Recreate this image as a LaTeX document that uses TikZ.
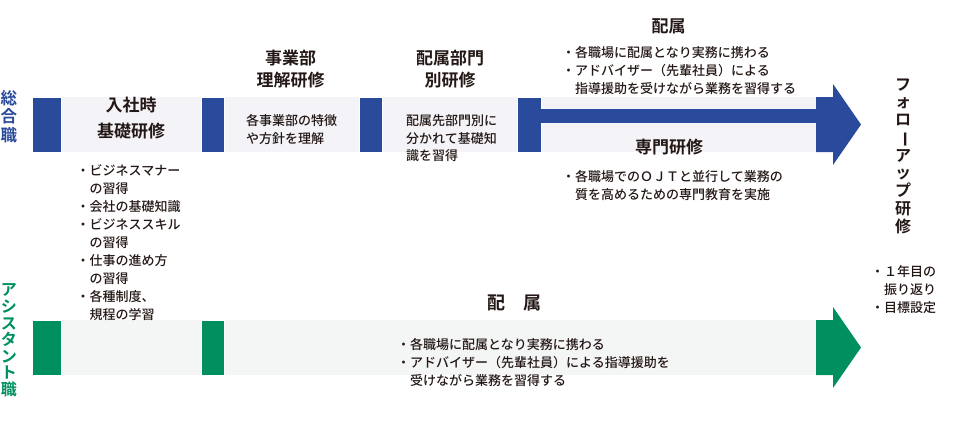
\documentclass[tikz,border=0pt]{standalone}
\usepackage{fontspec}
\setmainfont{Noto Sans CJK JP Medium}[BoldFont={Noto Sans CJK JP Bold}]
\usepackage{graphicx}
\usetikzlibrary{positioning}

\definecolor{sogoblue}{HTML}{2A4A9C}
\definecolor{asgreen}{HTML}{00905F}
\definecolor{bandblue}{HTML}{F3F3F8}
\definecolor{bandgreen}{HTML}{F4F6F6}
\definecolor{inkblack}{HTML}{231815}

\newcommand{\vbar}{\smash{\rotatebox[origin=c]{-90}{ー}}}

\begin{document}
\begin{tikzpicture}[
    x=1pt, y=-1pt,
    band/.style      = {draw=none},
    block/.style     = {draw=white, line width=0.8pt},
    stagetitle/.style = {font=\fontsize{17}{22.5}\selectfont\bfseries,
                         align=center, text=inkblack, inner sep=0pt},
    stagetext/.style  = {font=\fontsize{13}{18}\selectfont, align=left,
                         anchor=west, text=inkblack, inner sep=0pt},
    vlabel/.style     = {align=center, inner sep=0pt}
]
\useasboundingbox (0,0) rectangle (960,431);

% ========= 総合職 row =========
\fill[band, bandblue] (61,97) rectangle (816,152);
\foreach \xa/\xb in {32/61, 201/224, 359/382, 517/541}
  \filldraw[block, fill=sogoblue] (\xa,97) rectangle (\xb,152);
\fill[sogoblue] (541,109) rectangle (816,123);
\fill[sogoblue] (816,97) -- (833,97) -- (833,84) -- (861,124.5)
  -- (833,165) -- (833,152) -- (816,152) -- cycle;

% ========= アシスタント職 row =========
\fill[band, bandgreen] (61,320) rectangle (816,375);
\foreach \xa/\xb in {32/61, 201/224}
  \filldraw[block, fill=asgreen] (\xa,320) rectangle (\xb,375);
\fill[asgreen] (816,320) -- (833,320) -- (833,307) -- (861,347.5)
  -- (833,388) -- (833,375) -- (816,375) -- cycle;

% ========= row labels =========
\node[vlabel, text=sogoblue, font=\fontsize{16.5}{18.5}\selectfont\bfseries]
  (sogo) at (9,116.5) {総\\合\\職};
\node[vlabel, text=asgreen, font=\fontsize{16}{16.6}\selectfont\bfseries]
  (asst) at (9,340.5) {ア\\シ\\ス\\タ\\ン\\ト\\職};

% ========= stage titles =========
\node[stagetitle, font=\fontsize{17}{26.5}\selectfont\bfseries]
  (nyusha) at (131,118) {入社時\\基礎研修};
\node[stagetitle] (jigyo)     at (290.5,69) {事業部\\理解研修};
\node[stagetitle] (haizokubu) at (450,69)   {配属部門\\別研修};
\node[stagetitle] (haizoku)   at (668.5,26) {配属};
\node[stagetitle] (senmon)    at (669,147.5) {専門研修};
\node[stagetitle, font=\fontsize{18}{22}\selectfont\bfseries]
  (haizokuAs) at (514,302.5) {配　属};
\node[vlabel, text=inkblack, font=\fontsize{16}{17.75}\selectfont\bfseries]
  (follow) at (903,156) {フ\\ォ\\ロ\\\vbar\\ア\\ッ\\プ\\研\\修};

% ========= stage contents =========
\node[stagetext] (nyushaList) at (76.5,242.5)
  {・ビジネスマナー\\\hspace*{1em}の習得\\・会社の基礎知識\\・ビジネススキル\\\hspace*{1em}の習得\\%
   ・仕事の進め方\\\hspace*{1em}の習得\\・各種制度、\\\hspace*{1em}規程の学習};
\node[stagetext, font=\fontsize{13}{17.5}\selectfont] (jigyoText) at (246,129.5)
  {各事業部の特徴\\や方針を理解};
\node[stagetext, font=\fontsize{13}{17.5}\selectfont] (haizokubuText) at (406,138.5)
  {配属先部門別に\\分かれて基礎知\\識を習得};
\node[stagetext] (haizokuText) at (562,71)
  {・各職場に配属となり実務に携わる\\・アドバイザー（先輩社員）による\\\hspace*{1em}指導援助を受けながら業務を習得する};
\node[stagetext] (senmonText) at (562,186)
  {・各職場でのＯＪＴと並行して業務の\\\hspace*{1em}質を高めるための専門教育を実施};
\node[stagetext] (followText) at (871,289.5)
  {・１年目の\\\hspace*{1em}振り返り\\・目標設定};
\node[stagetext] (haizokuAsText) at (397,363)
  {・各職場に配属となり実務に携わる\\・アドバイザー（先輩社員）による指導援助を\\\hspace*{1em}受けながら業務を習得する};

\end{tikzpicture}
\end{document}
